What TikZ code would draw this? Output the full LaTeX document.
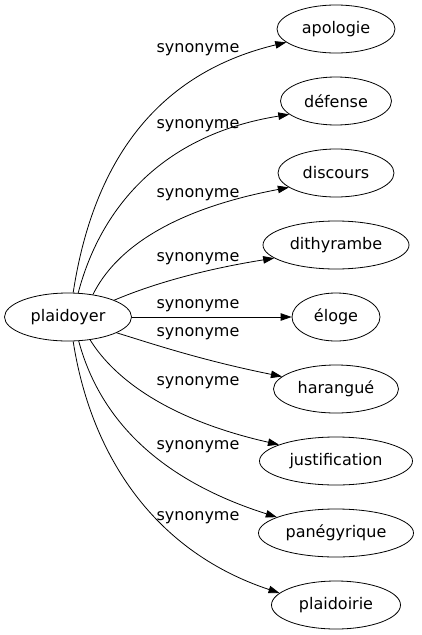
\documentclass[tikz,border=0pt]{standalone}
\usepackage{fontspec}
\setmainfont{DejaVu Sans}
\usetikzlibrary{shapes.geometric,arrows.meta}

\begin{document}
\begin{tikzpicture}[x=1pt, y=-1pt, node distance={72pt}, line width=0.8pt,
  main/.style = {draw, ellipse, inner sep=0pt, minimum height=48pt, font=\fontsize{16}{19}\selectfont},
  lbl/.style = {inner sep=0pt, font=\fontsize{16}{19}\selectfont},
  syn/.style = {-{Triangle[length=11pt,width=7.5pt]}}]
\useasboundingbox (0,0) rectangle (421,635);
\node[main, minimum width=127pt] (plaidoyer) at (68,317) {plaidoyer};
\node[main, minimum width=118pt] (apologie) at (336,29) {apologie};
\node[main, minimum width=111pt] (defense) [below of=apologie] {défense};
\node[main, minimum width=116pt] (discours) [below of=defense] {discours};
\node[main, minimum width=146pt] (dithyrambe) [below of=discours] {dithyrambe};
\node[main, minimum width=88pt] (eloge) [below of=dithyrambe] {éloge};
\node[main, minimum width=125pt] (harangue) [below of=eloge] {harangué};
\node[main, minimum width=153pt] (justification) [below of=harangue] {justification};
\node[main, minimum width=155pt] (panegyrique) [below of=justification] {panégyrique};
\node[main, minimum width=129pt] (plaidoirie) [below of=panegyrique] {plaidoirie};
% labels
\node[lbl] (s1) at (198,50) {synonyme};
\node[lbl] (s2) at (198,126) {synonyme};
\node[lbl] (s3) at (198,195) {synonyme};
\node[lbl] (s4) at (198,259) {synonyme};
\node[lbl] (s5) at (198,306) {synonyme};
\node[lbl] (s6) at (198,334) {synonyme};
\node[lbl] (s7) at (198,383) {synonyme};
\node[lbl] (s8) at (198,447) {synonyme};
\node[lbl] (s9) at (198,518) {synonyme};
% edges
\draw[syn] (plaidoyer.78) .. controls (92,170) and (150,75) .. (apologie.195);
\draw[syn] (plaidoyer.67) .. controls (100,210) and (160,135) .. (defense.196);
\draw[syn] (plaidoyer.42) .. controls (115,250) and (170,210) .. (discours.197);
\draw[syn] (plaidoyer.20) .. controls (150,285) and (200,270) .. (dithyrambe.192);
\draw[syn] (plaidoyer) -- (eloge);
\draw[syn] (plaidoyer.-18) .. controls (150,343) and (200,360) .. (harangue.167);
\draw[syn] (plaidoyer.-46) .. controls (115,380) and (170,420) .. (justification.164);
\draw[syn] (plaidoyer.-66) .. controls (100,420) and (160,480) .. (panegyrique.165);
\draw[syn] (plaidoyer.-78) .. controls (90,450) and (150,550) .. (plaidoirie.168);
\end{tikzpicture}
\end{document}
